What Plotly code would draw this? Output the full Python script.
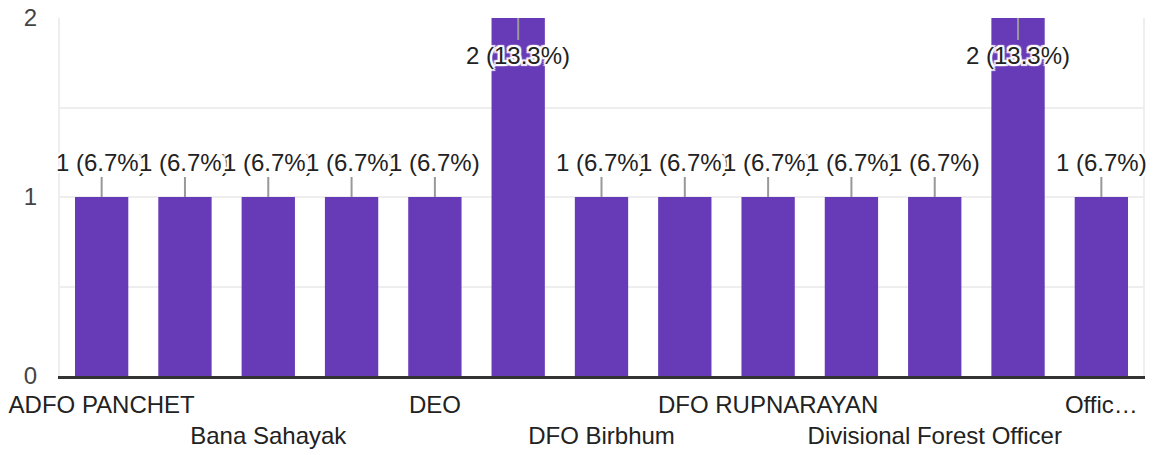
import plotly.graph_objects as go

categories = [
    "ADFO PANCHET", "Assistant Forest Officer", "Bana Sahayak", "Beat Officer",
    "DEO", "DFO", "DFO Birbhum", "DFO Jhargram", "DFO RUPNARAYAN", "Director",
    "Divisional Forest Officer", "Forest Guard", "Officer in charge",
]
values = [1, 1, 1, 1, 1, 2, 1, 1, 1, 1, 1, 2, 1]
tick_categories = ["ADFO PANCHET", "Bana Sahayak", "DEO", "DFO Birbhum",
                   "DFO RUPNARAYAN", "Divisional Forest Officer", "Officer in charge"]
tick_labels = ["ADFO PANCHET", "Bana Sahayak", "DEO", "DFO Birbhum",
               "DFO RUPNARAYAN", "Divisional Forest Officer", "Offic…"]

total = sum(values)
ymax = max(values)
FONT = "Arial, Liberation Sans, sans-serif"
FS = 24
halo = ("-2px -2px 1px white, 2px -2px 1px white, -2px 2px 1px white, "
        "2px 2px 1px white, 0 2px 1px white, 0 -2px 1px white, 2px 0 1px white, -2px 0 1px white")

fig = go.Figure(go.Bar(x=categories, y=values, marker=dict(color="#673ab7", line=dict(width=0)),
                       hoverinfo="skip"))

annotations = []
for c, v in zip(categories, values):
    annotations.append(dict(
        x=c, y=v, xref="x", yref="y",
        text=f"{v} ({v / total * 100:.1f}%)",
        showarrow=True, arrowhead=0, arrowwidth=2, arrowcolor="#999999",
        ax=0, ay=(37 if v == ymax else -35),
        font=dict(family=FONT, size=FS, color="#222222", shadow=halo),
    ))

ticktext = [("<br>" + t if i % 2 == 1 else t) for i, t in enumerate(tick_labels)]

fig.update_layout(
    width=1155, height=455,
    margin=dict(l=60, r=12, t=18, b=79, autoexpand=False),
    paper_bgcolor="white", plot_bgcolor="white",
    bargap=0.36,
    showlegend=False,
    annotations=annotations,
    font=dict(family=FONT, size=FS, color="#222222"),
    xaxis=dict(
        type="category", tickmode="array", tickvals=tick_categories, ticktext=ticktext,
        range=[-0.5, len(categories) - 0.5],
        showline=True, linecolor="#333333", linewidth=3, showgrid=False,
        ticks="", ticklabelstandoff=5, tickangle=0, automargin=False,
        tickfont=dict(family=FONT, size=FS, color="#222222"),
    ),
    yaxis=dict(
        range=[0, ymax], tickmode="linear", tick0=0, dtick=1,
        showgrid=True, gridcolor="#eeeeee", gridwidth=2,
        minor=dict(dtick=0.5, showgrid=True, gridcolor="#eeeeee", gridwidth=2),
        showline=True, linecolor="#eeeeee", linewidth=2, mirror=True,
        zeroline=False, ticks="", ticklabelstandoff=16, automargin=False,
        tickfont=dict(family=FONT, size=FS, color="#444444"),
    ),
)

fig.write_html("out.html", config={"displayModeBar": False},
               post_script="document.body.style.margin='0';document.body.style.overflow='hidden';")
